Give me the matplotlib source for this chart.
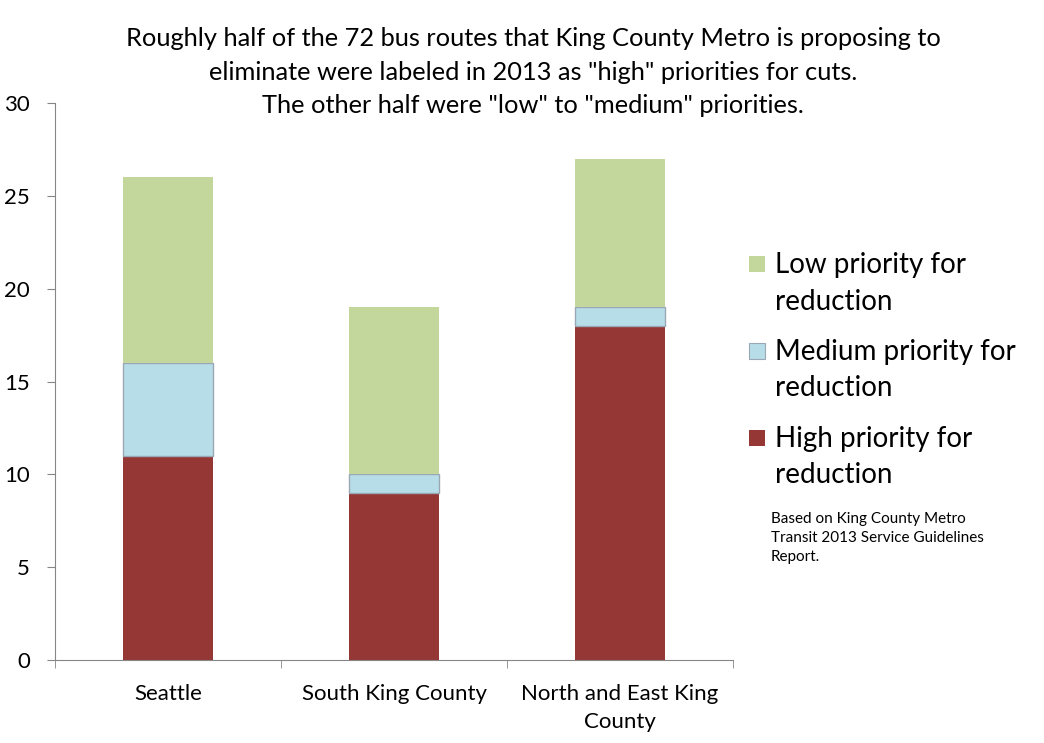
import numpy as np
import matplotlib.pyplot as plt
from matplotlib.patches import Rectangle

# data
regions = ['Seattle', 'South King County', 'North and East King\nCounty']
high = [11, 9, 18]
medium = [5, 1, 1]
low = [10, 9, 8]

series_names = ['Low priority for\nreduction', 'Medium priority for\nreduction', 'High priority for\nreduction']
colors = {'high': '#953735', 'medium': '#B7DEE8', 'low': '#C3D69B'}

title = ('Roughly half of the 72 bus routes that King County Metro is proposing to\n'
         'eliminate were labeled in 2013 as "high" priorities for cuts.\n'
         'The other half were "low" to "medium" priorities.')
note = 'Based on King County Metro\nTransit 2013 Service Guidelines\nReport.'

plt.rcParams['font.family'] = ['Lato', 'DejaVu Sans']

fig = plt.figure(figsize=(10.44, 7.43), dpi=100)
ax = fig.add_axes([55 / 1044, 1 - 660 / 743, 678 / 1044, 557 / 743])

x = np.arange(len(regions))
w = 0.4
high_a = np.array(high)
med_a = np.array(medium)
low_a = np.array(low)
ax.bar(x, high_a, w, color=colors['high'], edgecolor='none')
ax.bar(x, med_a, w, bottom=high_a, color=colors['medium'], edgecolor='#9aa7b4', linewidth=1)
ax.bar(x, low_a, w, bottom=high_a + med_a, color=colors['low'], edgecolor='none')

ax.set_xlim(-0.5, len(regions) - 0.5)
ax.set_ylim(0, 30)
ax.set_yticks(range(0, 31, 5))
ax.set_xticks(x)
ax.set_xticklabels(regions, fontsize=16, linespacing=1.5)
ax.set_xticks(np.arange(-0.5, len(regions), 1), minor=True)
ax.tick_params(axis='x', which='major', length=0, pad=17)
ax.tick_params(axis='x', which='minor', length=6, color='#868686')
ax.tick_params(axis='y', length=6, color='#868686', labelsize=16, pad=12)
for s in ['top', 'right']:
    ax.spines[s].set_visible(False)
for s in ['left', 'bottom']:
    ax.spines[s].set_color('#868686')

fig.text(533 / 1044, 1 - 72 / 743, title, ha='center', va='center', fontsize=18.3, linespacing=1.55)

# legend drawn by hand so the square sits by the first line
leg_colors = [colors['low'], colors['medium'], colors['high']]
leg_y = [264, 351, 438]
for name, c, yy in zip(series_names, leg_colors, leg_y):
    fig.patches.append(Rectangle((749 / 1044, 1 - (yy + 8) / 743), 16 / 1044, 16 / 743,
                                 transform=fig.transFigure, facecolor=c,
                                 edgecolor='#9aa7b4' if c == colors['medium'] else 'none',
                                 linewidth=0.8))
    fig.text(775 / 1044, 1 - (yy - 12) / 743, name, ha='left', va='top', fontsize=20, linespacing=1.5)

fig.text(771 / 1044, 1 - 512 / 743, note, ha='left', va='top', fontsize=11, linespacing=1.45)

fig.savefig('out.png', dpi=100)
